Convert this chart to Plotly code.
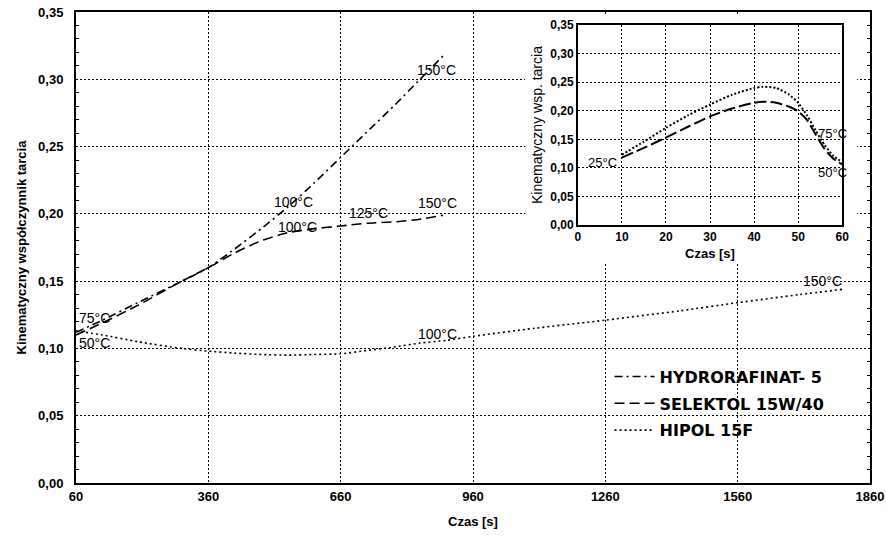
import plotly.graph_objects as go

# ---- main chart data ----
hydro_x = [60, 120, 200, 300, 360, 420, 480, 540, 600, 660, 720, 780, 840, 897]
hydro_y = [0.112, 0.121, 0.134, 0.150, 0.160, 0.174, 0.189, 0.205, 0.223, 0.242, 0.261, 0.280, 0.300, 0.319]

selek_x = [60, 120, 200, 300, 360, 420, 480, 540, 600, 660, 720, 780, 840, 892]
selek_y = [0.110, 0.119, 0.132, 0.150, 0.160, 0.171, 0.180, 0.186, 0.189, 0.191, 0.193, 0.194, 0.196, 0.199]

hipol_x = [60, 120, 200, 300, 360, 420, 480, 540, 600, 660, 720, 780, 840, 900, 960, 1100, 1260, 1430, 1560, 1700, 1800]
hipol_y = [0.113, 0.110, 0.105, 0.100, 0.098, 0.0965, 0.0955, 0.095, 0.0955, 0.096, 0.0985, 0.101, 0.104, 0.106, 0.109, 0.115, 0.121, 0.128, 0.134, 0.140, 0.144]

series_names = ["HYDRORAFINAT- 5", "SELEKTOL 15W/40", "HIPOL 15F"]

x_ticks = [60, 360, 660, 960, 1260, 1560, 1860]

# temperature labels (text, x, y)
main_labels = [
    ("150°C", 878, 0.307),
    ("100°C", 552, 0.209),
    ("100°C", 561, 0.190),
    ("125°C", 722, 0.2005),
    ("150°C", 879, 0.208),
    ("100°C", 879, 0.111),
    ("150°C", 1752, 0.150),
]
left_labels = [("75°C", 62, 0.1226), ("50°C", 62, 0.104)]

# ---- inset data ----
inset_x = [10, 15, 20, 25, 30, 35, 40, 42, 45, 48, 50, 52, 54, 56, 58, 60]
inset_dot = [0.123, 0.146, 0.170, 0.192, 0.211, 0.228, 0.240, 0.242, 0.240, 0.228, 0.214, 0.192, 0.165, 0.140, 0.121, 0.110]
inset_dash = [0.118, 0.135, 0.153, 0.172, 0.190, 0.204, 0.214, 0.216, 0.214, 0.207, 0.199, 0.184, 0.158, 0.133, 0.116, 0.106]
inset_labels = [("25°C", 5.5, 0.109), ("75°C", 57.8, 0.161), ("50°C", 57.8, 0.091)]

FONT = "Arial, Liberation Sans, sans-serif"
LEGFONT = "DejaVu Sans, Arial, sans-serif"

fig = go.Figure()

fig.add_trace(go.Scatter(x=hydro_x, y=hydro_y, mode="lines", name=series_names[0], legendgroup="a",
                         line=dict(color="black", width=1.6, dash="8px,4px,2px,4px",
                                   shape="spline", smoothing=0.6)))
fig.add_trace(go.Scatter(x=selek_x, y=selek_y, mode="lines", name=series_names[1], legendgroup="b",
                         line=dict(color="black", width=1.6, dash="10px,5px",
                                   shape="spline", smoothing=0.6)))
fig.add_trace(go.Scatter(x=hipol_x, y=hipol_y, mode="lines", name=series_names[2], legendgroup="c",
                         line=dict(color="black", width=1.6, dash="2px,3px",
                                   shape="spline", smoothing=0.6)))

# dummy subplot used only as white background behind the inset
fig.add_trace(go.Scatter(x=[None], y=[None], xaxis="x2", yaxis="y2", showlegend=False,
                         hoverinfo="skip"))

# inset curves
fig.add_trace(go.Scatter(x=inset_x, y=inset_dot, mode="lines", xaxis="x3", yaxis="y3",
                         showlegend=False,
                         line=dict(color="black", width=2, dash="2px,2px", shape="spline", smoothing=0.6)))
fig.add_trace(go.Scatter(x=inset_x, y=inset_dash, mode="lines", xaxis="x3", yaxis="y3",
                         showlegend=False,
                         line=dict(color="black", width=2, dash="12px,4px", shape="spline", smoothing=0.6)))

annotations = []
for t, x, y in main_labels:
    annotations.append(dict(text=t, x=x, y=y, xref="x", yref="y", showarrow=False,
                            font=dict(family=FONT, size=14, color="black")))
for t, x, y in left_labels:
    annotations.append(dict(text=t, x=x, y=y, xref="x", yref="y", showarrow=False,
                            xanchor="left",
                            font=dict(family=FONT, size=14, color="black")))
for t, x, y in inset_labels:
    annotations.append(dict(text=t, x=x, y=y, xref="x3", yref="y3", showarrow=False,
                            font=dict(family=FONT, size=13, color="black")))

grid = dict(showgrid=True, gridcolor="black", gridwidth=1, griddash="2px,2px", zeroline=False)

fig.update_layout(
    width=886, height=539,
    margin=dict(l=76, r=16, t=12, b=56),
    paper_bgcolor="white", plot_bgcolor="white",
    separators=", ",
    font=dict(family=FONT, color="black"),
    xaxis=dict(range=[60, 1860], tickvals=x_ticks, ticks="", showline=True, linecolor="black",
               linewidth=2, mirror=True, automargin=False,
               tickfont=dict(family=FONT, size=13, color="black", weight="bold"),
               title=dict(text="Czas [s]", font=dict(family=FONT, size=13, weight="bold"), standoff=14),
               **grid),
    yaxis=dict(range=[0, 0.35], dtick=0.05, tickformat=".2f", ticks="", showline=True,
               linecolor="black", linewidth=2, mirror="allticks", automargin=False,
               ticklabelstandoff=8,
               minor=dict(dtick=0.01, ticks="inside", ticklen=3, tickcolor="black", showgrid=False),
               tickfont=dict(family=FONT, size=13, color="black", weight="bold"),
               title=dict(text="Kinematyczny współczynnik tarcia",
                          font=dict(family=FONT, size=13, weight="bold"), standoff=9),
               **grid),
    xaxis2=dict(domain=[0.5655, 0.9836], anchor="y2", range=[0, 1], showgrid=False,
                zeroline=False, showline=False, showticklabels=False, ticks="", automargin=False),
    yaxis2=dict(domain=[0.469, 0.9936], anchor="x2", range=[0, 1], showgrid=False,
                zeroline=False, showline=False, showticklabels=False, ticks="", automargin=False),
    xaxis3=dict(domain=[0.632, 0.965], anchor="y3", range=[0, 60], dtick=10, ticks="",
                showline=True, linecolor="black", linewidth=1.5, mirror=True, automargin=False,
                tickfont=dict(family=FONT, size=12, color="black", weight="bold"),
                title=dict(text="Czas [s]", font=dict(family=FONT, size=13, weight="bold"), standoff=6),
                **grid),
    yaxis3=dict(domain=[0.548, 0.972], anchor="x3", range=[0, 0.35], dtick=0.05,
                tickformat=".2f", ticks="", showline=True, linecolor="black", linewidth=1.5,
                mirror=True, automargin=False,
                tickfont=dict(family=FONT, size=12, color="black", weight="bold"),
                title=dict(text="Kinematyczny wsp. tarcia", font=dict(family=FONT, size=14),
                           standoff=4),
                **grid),
    showlegend=True,
    legend=dict(x=0.672, y=0.262, xanchor="left", yanchor="top", bgcolor="rgba(0,0,0,0)",
                font=dict(family=LEGFONT, size=16, color="black", weight="bold"),
                itemwidth=40, traceorder="grouped", tracegroupgap=3),
    annotations=annotations,
)

fig.write_html("out.html")
